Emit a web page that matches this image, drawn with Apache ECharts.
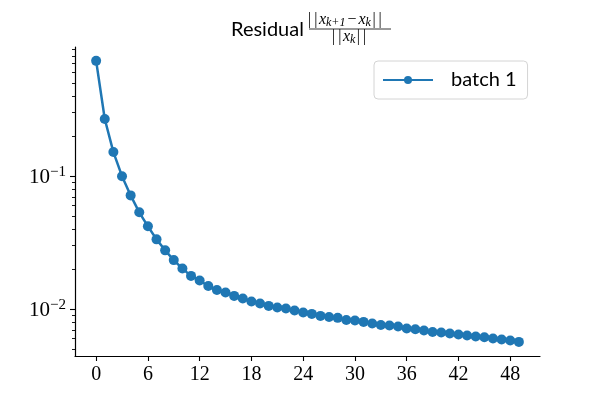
<!DOCTYPE html>
<html>
<head>
<meta charset="utf-8">
<script src="https://cdn.jsdelivr.net/npm/echarts@6/dist/echarts.min.js"></script>
<style>
  html, body { margin: 0; padding: 0; background: #fff; }
  #chart { width: 600px; height: 400px; }
</style>
</head>
<body>
<div id="chart"></div>
<script>
// iteration index and residual values
var iterations = [0, 1, 2, 3, 4, 5, 6, 7, 8, 9,
	10, 11, 12, 13, 14, 15, 16, 17, 18, 19,
	20, 21, 22, 23, 24, 25, 26, 27, 28, 29,
	30, 31, 32, 33, 34, 35, 36, 37, 38, 39,
	40, 41, 42, 43, 44, 45, 46, 47, 48, 49];
var residuals = [0.7356, 0.2688, 0.1517, 0.1000, 0.0717, 0.0535, 0.0420, 0.0335, 0.0277, 0.0234,
	0.0202, 0.0178, 0.01644, 0.01496, 0.01396, 0.01336, 0.01259, 0.01203, 0.01143, 0.01104,
	0.01059, 0.01030, 0.01012, 0.00977, 0.00944, 0.00922, 0.00891, 0.00875, 0.00861, 0.00831,
	0.00822, 0.00803, 0.00780, 0.00762, 0.00754, 0.00741, 0.00716, 0.00708, 0.00692, 0.00675,
	0.00668, 0.00657, 0.00646, 0.00634, 0.00623, 0.00616, 0.00602, 0.00592, 0.00582, 0.00568];

var xTicks = [0, 6, 12, 18, 24, 30, 36, 42, 48];
var yMajorTicks = [0.01, 0.1];
var yMinorTicks = [0.005, 0.006, 0.007, 0.008, 0.009,
	0.02, 0.03, 0.04, 0.05, 0.06, 0.07, 0.08, 0.09,
	0.2, 0.3, 0.4, 0.5, 0.6, 0.7, 0.8, 0.9];

var seriesName = 'batch 1';
var blue = '#1f77b4';

var points = iterations.map(function (x, i) { return [x, residuals[i]]; });

// styles for the little fraction in the title
var mathRich = {
	r: { fontFamily: 'Liberation Serif', fontSize: 16, fill: '#000', padding: [0, 1.5, 0, 1.5] },
	i: { fontFamily: 'Liberation Serif', fontStyle: 'italic', fontSize: 16, fill: '#000' },
	m: { fontFamily: 'Liberation Serif', fontSize: 16, fill: '#000', padding: [0, 2, 0, 2] },
	s: { fontFamily: 'Liberation Serif', fontStyle: 'italic', fontSize: 12, fill: '#000', verticalAlign: 'bottom', padding: [5, 0, 0, 0] }
};

var myChart = echarts.init(document.getElementById('chart'));

var option = {
	animation: false,
	title: {
		text: 'Residual',
		left: 226,
		top: 15,
		textStyle: { fontFamily: 'Lato', fontSize: 20, fontWeight: 'normal', color: '#000' }
	},
	graphic: [
		{
			type: 'text',
			left: 308,
			top: 12,
			style: { text: '{r||}{r||}{i|x}{s|k+1}{m|−}{i|x}{s|k}{r||}{r||}', rich: mathRich }
		},
		{
			type: 'line',
			shape: { x1: 309, y1: 29, x2: 391, y2: 29 },
			style: { stroke: '#000', lineWidth: 0.8 }
		},
		{
			type: 'text',
			left: 332,
			top: 29,
			style: { text: '{r||}{r||}{i|x}{s|k}{r||}{r||}', rich: mathRich }
		}
	],
	legend: {
		data: [seriesName],
		left: 374,
		top: 61,
		padding: [9, 11, 9, 8],
		itemWidth: 50,
		itemHeight: 10,
		backgroundColor: '#fff',
		borderColor: '#d4d4d4',
		borderWidth: 1,
		borderRadius: 4,
		textStyle: { fontFamily: 'Lato', fontSize: 20, color: '#000', padding: [0, 0, 0, 13] }
	},
	grid: { left: 75, right: 60, top: 47, bottom: 44 },
	xAxis: {
		type: 'value',
		min: -2.45,
		max: 51.45,
		splitLine: { show: false },
		axisLine: { onZero: false, lineStyle: { color: '#000', width: 1.2 } },
		axisTick: { customValues: xTicks, length: 5, lineStyle: { color: '#000', width: 1.1 } },
		axisLabel: {
			customValues: xTicks,
			margin: 9,
			fontFamily: 'Liberation Serif',
			fontSize: 20,
			color: '#000'
		}
	},
	yAxis: [
		{
			type: 'log',
			logBase: 10,
			min: 0.00445,
			max: 0.935,
			splitLine: { show: false },
			axisLine: { show: true, onZero: false, lineStyle: { color: '#000', width: 1.2 } },
			axisTick: { customValues: yMajorTicks, length: 5, lineStyle: { color: '#000', width: 1.1 } },
			axisLabel: {
				customValues: yMajorTicks,
				margin: 9,
				formatter: function (v) {
					return '{b|10}{s|−' + Math.abs(Math.round(Math.log10(v))) + '}';
				},
				rich: {
					b: { fontFamily: 'Liberation Serif', fontSize: 21, color: '#000', lineHeight: 24, verticalAlign: 'bottom' },
					s: { fontFamily: 'Liberation Serif', fontSize: 15, color: '#000', lineHeight: 24, verticalAlign: 'top', padding: [0, 0, 6, 0] }
				}
			}
		},
		{
			type: 'log',
			logBase: 10,
			min: 0.00445,
			max: 0.935,
			position: 'left',
			splitLine: { show: false },
			axisLine: { show: false, onZero: false },
			axisTick: { customValues: yMinorTicks, length: 3, lineStyle: { color: '#000', width: 0.9 } },
			axisLabel: { show: false }
		}
	],
	series: [
		{
			name: seriesName,
			type: 'line',
			data: points,
			yAxisIndex: 0,
			color: blue,
			symbol: 'circle',
			symbolSize: 10,
			lineStyle: { width: 2.5, color: blue },
			itemStyle: { color: blue }
		}
	]
};

myChart.setOption(option);
</script>
</body>
</html>
